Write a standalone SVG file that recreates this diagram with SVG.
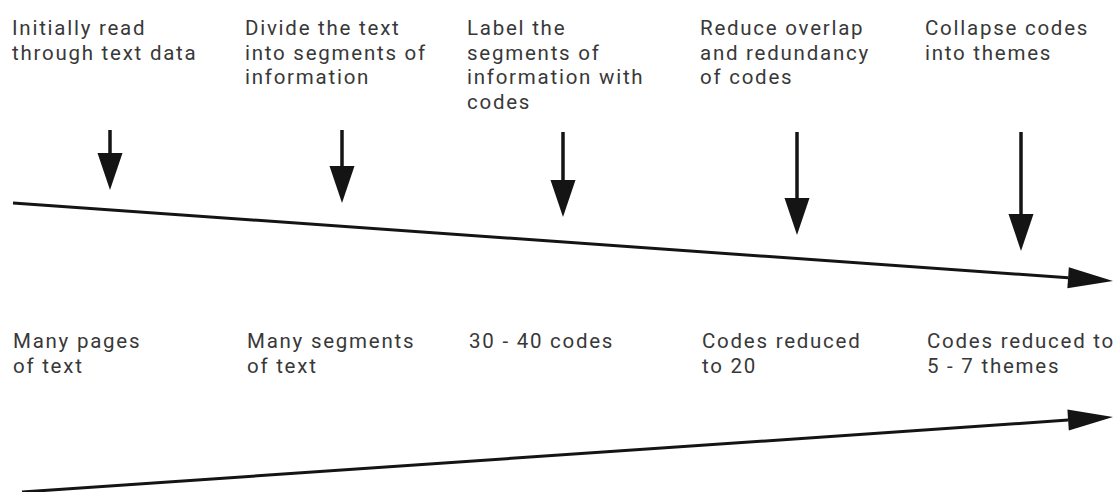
<svg xmlns="http://www.w3.org/2000/svg" width="1114" height="492" viewBox="0 0 1114 492">
  <style>
    .lbl { font-family: Roboto, "Liberation Sans", sans-serif; font-size: 20.5px; letter-spacing: 1.75px; fill: #383838; }
    .shaft { stroke: #141414; stroke-width: 3.5; fill: none; }
    .main { stroke: #141414; stroke-width: 3; fill: none; }
  </style>
  <defs>
    <marker id="headV" markerUnits="userSpaceOnUse" markerWidth="37" markerHeight="26" refX="0" refY="12.5" orient="auto" overflow="visible">
      <path d="M0,0 L37,12.5 L0,25 Z" fill="#141414"/>
    </marker>
    <marker id="headM" markerUnits="userSpaceOnUse" markerWidth="46" markerHeight="22" refX="0" refY="10.5" orient="auto" overflow="visible">
      <path d="M0,0 L45,10.5 L0,21 Z" fill="#141414"/>
    </marker>
  </defs>
  <rect width="1114" height="492" fill="#ffffff"/>

  <g id="step1">
    <text class="lbl" x="12" y="35">Initially read</text>
    <text class="lbl" x="12" y="59.5">through text data</text>
  </g>
  <g id="step2">
    <text class="lbl" x="245" y="35">Divide the text</text>
    <text class="lbl" x="245" y="59.5">into segments of</text>
    <text class="lbl" x="245" y="84">information</text>
  </g>
  <g id="step3">
    <text class="lbl" x="467" y="35">Label the</text>
    <text class="lbl" x="467" y="59.5">segments of</text>
    <text class="lbl" x="467" y="84">information with</text>
    <text class="lbl" x="467" y="108.5">codes</text>
  </g>
  <g id="step4">
    <text class="lbl" x="700" y="35">Reduce overlap</text>
    <text class="lbl" x="700" y="59.5">and redundancy</text>
    <text class="lbl" x="700" y="84">of codes</text>
  </g>
  <g id="step5">
    <text class="lbl" x="925" y="35">Collapse codes</text>
    <text class="lbl" x="925" y="59.5">into themes</text>
  </g>

  <g id="result1">
    <text class="lbl" x="13" y="348">Many pages</text>
    <text class="lbl" x="13" y="373">of text</text>
  </g>
  <g id="result2">
    <text class="lbl" x="247" y="348">Many segments</text>
    <text class="lbl" x="247" y="373">of text</text>
  </g>
  <g id="result3">
    <text class="lbl" x="469" y="348">30 - 40 codes</text>
  </g>
  <g id="result4">
    <text class="lbl" x="702" y="348">Codes reduced</text>
    <text class="lbl" x="702" y="373">to 20</text>
  </g>
  <g id="result5">
    <text class="lbl" x="927" y="348">Codes reduced to</text>
    <text class="lbl" x="927" y="373">5 - 7 themes</text>
  </g>

  <g id="connectors">
    <line class="shaft" x1="110" y1="130" x2="110" y2="153" marker-end="url(#headV)"/>
    <line class="shaft" x1="342" y1="130" x2="342" y2="166" marker-end="url(#headV)"/>
    <line class="shaft" x1="563" y1="132" x2="563" y2="180" marker-end="url(#headV)"/>
    <line class="shaft" x1="797" y1="132" x2="797" y2="198" marker-end="url(#headV)"/>
    <line class="shaft" x1="1021" y1="132" x2="1021" y2="214" marker-end="url(#headV)"/>
    <line class="main" x1="13" y1="203" x2="1068.1" y2="277.8" marker-end="url(#headM)"/>
    <line class="main" x1="22" y1="492" x2="1068.1" y2="420.1" marker-end="url(#headM)"/>
  </g>
</svg>
